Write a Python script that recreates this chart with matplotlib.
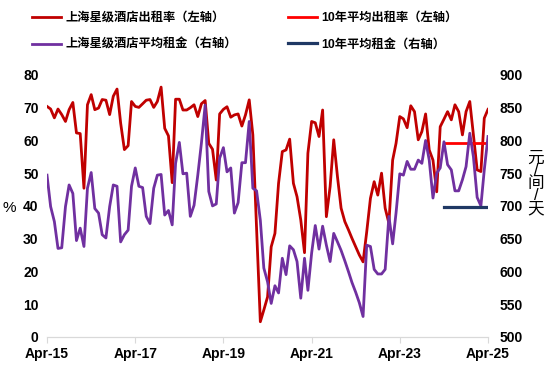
import pandas as pd
import matplotlib
matplotlib.use("Agg")
import matplotlib.pyplot as plt

# ── Data (monthly, Apr-15 .. Apr-25) ───────────────────────────────────────
months = pd.date_range("2015-04-01", "2025-04-01", freq="MS")

occupancy = [
    70.4, 69.6, 66.9, 69.6, 67.9, 65.8, 69.4, 71.6, 62.3, 62.1, 45.4, 70.9,
    74.0, 69.4, 69.9, 72.5, 72.3, 67.9, 73.5, 75.7, 65.3, 57.2, 58.4, 71.9,
    70.4, 70.1, 71.2, 72.3, 72.5, 70.1, 71.9, 76.3, 63.7, 61.4, 47.1, 72.6,
    72.6, 69.3, 69.3, 70.0, 70.9, 67.3, 71.2, 72.2, 59.1, 57.3, 47.9, 68.1,
    69.5, 70.3, 67.1, 67.8, 68.1, 64.4, 67.8, 72.4, 61.7, 33.0, 4.6, 8.2,
    12.2, 27.5, 31.6, 46.9, 56.6, 57.1, 60.4, 46.9, 42.8, 35.7, 25.7, 56.1,
    65.8, 65.4, 61.2, 69.3, 36.7, 45.9, 60.2, 48.9, 39.3, 35.2, 32.6, 30.1,
    27.5, 25.0, 22.9, 32.0, 42.3, 47.4, 43.3, 50.0, 39.3, 34.7, 54.0, 59.1,
    67.3, 66.6, 63.9, 70.6, 68.8, 60.2, 62.7, 68.1, 57.1, 54.0, 44.3, 64.2,
    66.5, 68.8, 66.3, 70.9, 68.8, 61.7, 68.8, 71.9, 61.7, 51.0, 50.5, 66.8,
    69.5,
]

avg_rent = [
    747, 699, 676, 635, 636, 699, 732, 719, 647, 666, 638, 727,
    751, 696, 689, 656, 651, 699, 732, 730, 645, 656, 663, 730,
    758, 730, 728, 684, 673, 727, 747, 748, 686, 693, 671, 765,
    797, 749, 750, 684, 701, 747, 796, 854, 722, 700, 703, 773,
    789, 752, 758, 689, 705, 766, 766, 829, 727, 723, 678, 605,
    584, 551, 578, 567, 620, 595, 639, 633, 615, 559, 620, 571,
    628, 670, 634, 669, 640, 615, 658, 645, 632, 616, 599, 583,
    568, 552, 531, 640, 638, 603, 596, 596, 603, 684, 642, 689,
    749, 747, 768, 756, 756, 770, 765, 800, 770, 712, 750, 758,
    798, 763, 755, 723, 723, 740, 760, 811, 775, 713, 700, 755,
    806,
]

# 10-year averages, drawn over the last year
avg_start = "2024-04-01"
avg_end = "2025-04-01"
occ_10y = 59.3
rent_10y = 698

xtick_dates = pd.date_range("2015-04-01", "2025-04-01", freq="24MS")
xtick_labels = [d.strftime("%b-%y") for d in xtick_dates]

# ── Style ──────────────────────────────────────────────────────────────────
DARK_RED = "#C00000"
RED = "#FF0000"
PURPLE = "#7030A0"
NAVY = "#1F3864"
plt.rcParams["font.family"] = ["Liberation Sans", "Noto Sans CJK SC", "DejaVu Sans"]

fig = plt.figure(figsize=(5.53, 3.78), dpi=100)
ax = fig.add_axes([0.085, 0.109, 0.7975, 0.6926])
ax2 = ax.twinx()

l1, = ax.plot(months, occupancy, color=DARK_RED, lw=2)
l3, = ax.plot(pd.to_datetime([avg_start, avg_end]), [occ_10y, occ_10y], color=RED, lw=2)
l2, = ax2.plot(months, avg_rent, color=PURPLE, lw=2)
l4, = ax2.plot(pd.to_datetime([avg_start, avg_end]), [rent_10y, rent_10y], color=NAVY, lw=2.3)

ax.set_xlim(months[0], months[-1])
ax.set_ylim(0, 80)
ax.set_yticks(range(0, 81, 10))
ax2.set_ylim(500, 900)
ax2.set_yticks(range(500, 901, 50))
ax.set_xticks(xtick_dates)
ax.set_xticklabels(xtick_labels)

for a in (ax, ax2):
    for s in ("top", "left", "right"):
        a.spines[s].set_visible(False)
    a.spines["bottom"].set_color("#D9D9D9")
    a.tick_params(axis="y", length=0, labelsize=10)
    for lab in a.get_yticklabels():
        lab.set_fontweight("bold")
ax.tick_params(axis="y", pad=6)
ax2.tick_params(axis="y", pad=8)
ax.tick_params(axis="x", length=4, color="#D9D9D9", labelsize=10, pad=3)
for lab in ax.get_xticklabels():
    lab.set_fontweight("bold")

fig.text(0.016, 0.45, "%", fontsize=11, ha="center", va="center")
fig.text(0.969, 0.515, "元\n/\n间\n/\n天", fontsize=12, ha="center", va="center",
         linespacing=0.8)

fig.legend([l1, l2, l3, l4],
           ["上海星级酒店出租率（左轴）", "上海星级酒店平均租金（右轴）",
            "10年平均出租率（左轴）", "10年平均租金（右轴）"],
           ncol=2, loc="upper left", bbox_to_anchor=(0.058, 0.968), frameon=False,
           borderpad=0, borderaxespad=0, handlelength=2.4, handletextpad=0.3,
           columnspacing=4.2, labelspacing=1.2,
           prop={"weight": "bold", "size": 8.8})

fig.savefig("out.png", dpi=100)
